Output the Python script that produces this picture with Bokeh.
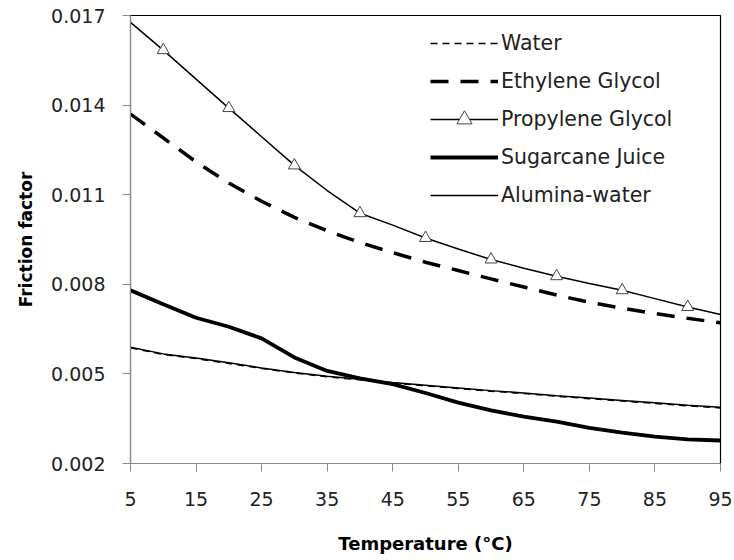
from bokeh.plotting import figure
from bokeh.models import FixedTicker, PrintfTickFormatter, Legend, LegendItem, Range1d
from bokeh.embed import file_html
from bokeh.resources import INLINE

temps = [5, 10, 15, 20, 25, 30, 35, 40, 45, 50, 55, 60, 65, 70, 75, 80, 85, 90, 95]

water = [0.00587, 0.00565, 0.00551, 0.00535, 0.00518, 0.00503, 0.00490, 0.00480, 0.00469,
         0.00460, 0.00451, 0.00442, 0.00434, 0.00425, 0.00417, 0.00409, 0.00401, 0.00393, 0.00386]
ethylene = [0.0137, 0.0129, 0.0121, 0.01139, 0.01078, 0.01024, 0.00979, 0.00940, 0.00906,
            0.00874, 0.00846, 0.00818, 0.00791, 0.00764, 0.00740, 0.00720, 0.00702, 0.00686, 0.00671]
propylene = [0.01677, 0.01584, 0.01487, 0.01390, 0.01294, 0.01198, 0.01114, 0.01038, 0.00998,
             0.00955, 0.00918, 0.00883, 0.00854, 0.00827, 0.00803, 0.00780, 0.00752, 0.00724, 0.00699]
sugarcane = [0.0078, 0.00733, 0.00688, 0.00658, 0.00619, 0.00555, 0.00510, 0.00485, 0.00466,
             0.00436, 0.00404, 0.00378, 0.00357, 0.00340, 0.00319, 0.00303, 0.00290, 0.00281, 0.00277]
alumina = [0.00589, 0.00567, 0.00553, 0.00537, 0.00520, 0.00505, 0.00492, 0.00482, 0.00471,
           0.00462, 0.00453, 0.00444, 0.00436, 0.00427, 0.00419, 0.00411, 0.00403, 0.00395, 0.00388]

marker_temps = [10, 20, 30, 40, 50, 60, 70, 80, 90]
marker_propylene = [0.01584, 0.01390, 0.01198, 0.01038, 0.00955, 0.00883, 0.00827, 0.00780, 0.00724]

x_ticks = [5, 15, 25, 35, 45, 55, 65, 75, 85, 95]
y_ticks = [0.002, 0.005, 0.008, 0.011, 0.014, 0.017]

series_names = ["Water", "Ethylene Glycol", "Propylene Glycol", "Sugarcane Juice", "Alumina-water"]

p = figure(width=734, height=560, output_backend="svg", toolbar_location=None,
           x_range=Range1d(5, 95), y_range=Range1d(0.002, 0.017),
           min_border_left=130, min_border_right=14, min_border_top=15, min_border_bottom=97)
p.grid.visible = False
p.background_fill_color = "white"
p.border_fill_color = "white"
p.outline_line_color = "black"
p.outline_line_width = 1.2

font = "DejaVu Sans"
for ax in (p.xaxis[0], p.yaxis[0]):
    ax.axis_line_color = "#888888"
    ax.major_tick_line_color = "#888888"
    ax.major_tick_out = 8
    ax.major_tick_in = 0
    ax.minor_tick_line_color = None
    ax.major_label_text_font = font
    ax.major_label_text_font_size = "19px"
    ax.major_label_text_color = "#222222"
    ax.axis_label_text_font = font
    ax.axis_label_text_font_style = "bold"
    ax.axis_label_text_color = "black"

p.xaxis.ticker = FixedTicker(ticks=x_ticks)
p.yaxis.ticker = FixedTicker(ticks=y_ticks)
p.xaxis.formatter = PrintfTickFormatter(format="%d")
p.yaxis.formatter = PrintfTickFormatter(format="%.3f")
p.xaxis.major_label_standoff = 20
p.yaxis.major_label_standoff = 17
p.xaxis.axis_label = "Temperature (°C)"
p.yaxis.axis_label = "Friction factor"
p.xaxis.axis_label_text_font_size = "18px"
p.yaxis.axis_label_text_font_size = "17px"
p.xaxis.axis_label_standoff = 24
p.yaxis.axis_label_standoff = 12

r_water = p.line(temps, water, line_color="black", line_width=1.4, line_dash="7 5")
r_eth = p.line(temps, ethylene, line_color="black", line_width=3.5, line_dash="18 12")
r_prop = p.line(temps, propylene, line_color="black", line_width=1.5)
r_prop_m = p.scatter(marker_temps, marker_propylene, marker="triangle", size=12,
                     fill_color="white", line_color="#444444", line_width=1)
r_sug = p.line(temps, sugarcane, line_color="black", line_width=3.8)
r_alu = p.line(temps, alumina, line_color="black", line_width=1.5)

items = [
    LegendItem(label=series_names[0], renderers=[r_water]),
    LegendItem(label=series_names[1], renderers=[r_eth]),
    LegendItem(label=series_names[2], renderers=[r_prop, r_prop_m]),
    LegendItem(label=series_names[3], renderers=[r_sug]),
    LegendItem(label=series_names[4], renderers=[r_alu]),
]
legend = Legend(items=items, location=(300, 249), border_line_color=None,
                background_fill_alpha=0, padding=0, margin=0, spacing=0,
                glyph_width=68, glyph_height=38, label_height=38,
                label_standoff=3, label_text_font=font, label_text_font_size="20.5px",
                label_text_color="#222222")
p.add_layout(legend)

open("out.html", "w").write(file_html(p, INLINE))
